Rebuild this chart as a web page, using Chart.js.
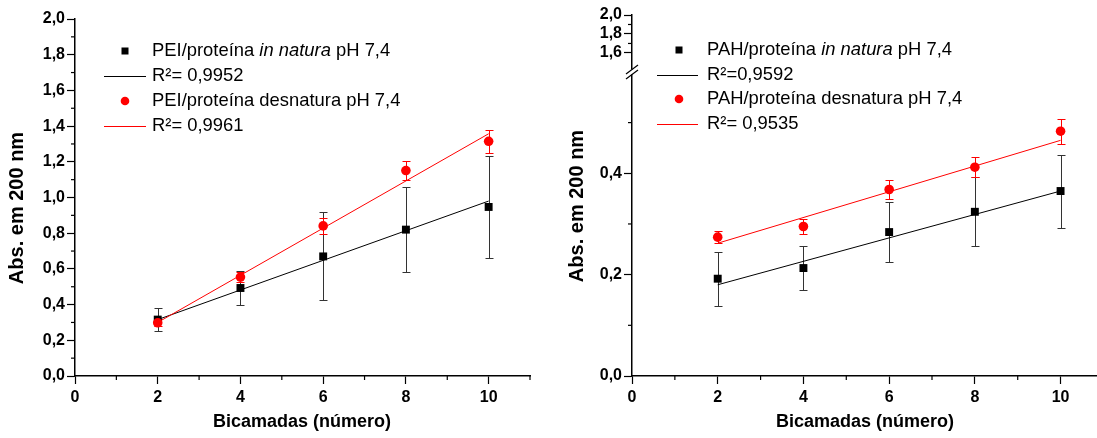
<!DOCTYPE html>
<html lang="pt">
<head>
<meta charset="UTF-8">
<title>Abs. em 200 nm x Bicamadas</title>
<script src="https://cdn.jsdelivr.net/npm/chart.js"></script>
<style>
  body { margin: 0; background: #fff; }
  #wrap { position: relative; width: 1097px; height: 438px; overflow: hidden; }
  #wrap canvas { position: absolute; top: 0; }
</style>
</head>
<body>
<div id="wrap">
  <canvas id="peiChart" width="549" height="438" style="left:0"></canvas>
  <canvas id="pahChart" width="548" height="438" style="left:549px"></canvas>
</div>
<script>
// --- dados ---
const bicamadas = [2, 4, 6, 8, 10];
const fitX = [2, 10];

// PEI
const peiNatura = [0.316, 0.493, 0.67, 0.82, 0.947];
const peiNaturaErr = [0.066, 0.093, 0.247, 0.238, 0.284];
const peiDesnat = [0.298, 0.554, 0.841, 1.151, 1.315];
const peiDesnatErr = [0.02, 0.03, 0.045, 0.055, 0.065];
const peiNaturaFit = [0.316, 0.98];
const peiDesnatFit = [0.30, 1.357];

// PAH
const pahNatura = [0.192, 0.213, 0.284, 0.324, 0.365];
const pahNaturaErr = [0.053, 0.044, 0.06, 0.068, 0.072];
const pahDesnat = [0.274, 0.295, 0.368, 0.412, 0.483];
const pahDesnatErr = [0.012, 0.015, 0.018, 0.02, 0.025];
const pahNaturaFit = [0.18, 0.365];
const pahDesnatFit = [0.262, 0.465];

// ticks
const xMajor = [0, 2, 4, 6, 8, 10];
const xMinor = [1, 3, 5, 7, 9, 11];
const peiYMajor = [0, 0.2, 0.4, 0.6, 0.8, 1.0, 1.2, 1.4, 1.6, 1.8, 2.0];
const peiYMinor = [0.1, 0.3, 0.5, 0.7, 0.9, 1.1, 1.3, 1.5, 1.7, 1.9];
const pahYMajor = [0, 0.2, 0.4];
const pahYMinor = [0.1, 0.3, 0.5];
const pahTopMajor = [1.6, 1.8, 2.0];
const pahTopMinor = [1.7, 1.9];

const xTitle = 'Bicamadas (número)';
const yTitle = 'Abs. em 200 nm';
const peiLegend = [
  [['PEI/proteína ', false], ['in natura', true], [' pH 7,4', false]],
  [['R²= 0,9952', false]],
  [['PEI/proteína desnatura pH 7,4', false]],
  [['R²= 0,9961', false]]
];
const pahLegend = [
  [['PAH/proteína ', false], ['in natura', true], [' pH 7,4', false]],
  [['R²=0,9592', false]],
  [['PAH/proteína desnatura pH 7,4', false]],
  [['R²= 0,9535', false]]
];

const FONT = 'Arial, "Liberation Sans", sans-serif';
const RED = '#ff0000';

const pts = (xs, ys) => xs.map((x, i) => ({ x: x, y: ys[i] }));
const fmtY = v => v.toFixed(1).replace('.', ',');
const fmtX = v => String(v);

function axis(min, max, majors, fmt, size, pad, extra) {
  return Object.assign({
    type: 'linear',
    min: min,
    max: max,
    afterBuildTicks: s => { s.ticks = majors.map(v => ({ value: v })); },
    afterFit: s => { if (s.isHorizontal()) s.height = size; else s.width = size; },
    grid: { drawOnChartArea: false, drawTicks: true, tickLength: 8, tickColor: '#000', tickWidth: 1.2 },
    border: { display: true, color: '#000', width: 1.5 },
    ticks: {
      color: '#000', padding: pad, autoSkip: false, maxRotation: 0,
      font: { family: FONT, size: 16, weight: 'bold' },
      callback: fmt
    }
  }, extra || {});
}

function datasets(natFit, desFit, nat, des, yId) {
  return [
    { data: pts(fitX, natFit), showLine: true, borderColor: '#000', borderWidth: 1, pointRadius: 0, order: 3, yAxisID: yId },
    { data: pts(fitX, desFit), showLine: true, borderColor: RED, borderWidth: 1, pointRadius: 0, order: 2, yAxisID: yId },
    { data: pts(bicamadas, nat), pointStyle: 'rect', pointRadius: 5.6, backgroundColor: '#000', borderWidth: 0, order: 1, yAxisID: yId },
    { data: pts(bicamadas, des), pointStyle: 'circle', pointRadius: 4.8, backgroundColor: RED, borderWidth: 0, order: 0, yAxisID: yId }
  ];
}

// barras de erro
function errorBars(sets) {
  return {
    id: 'errorBars',
    beforeDatasetsDraw(chart) {
      const ctx = chart.ctx, xs = chart.scales.x, ys = chart.scales.y;
      sets.forEach(s => {
        ctx.save();
        ctx.strokeStyle = s.color;
        ctx.lineWidth = 1;
        bicamadas.forEach((xv, i) => {
          const px = Math.round(xs.getPixelForValue(xv)) + 0.5;
          const top = Math.round(ys.getPixelForValue(s.y[i] + s.err[i])) + 0.5;
          const bot = Math.round(ys.getPixelForValue(s.y[i] - s.err[i])) + 0.5;
          ctx.beginPath();
          ctx.moveTo(px, top); ctx.lineTo(px, bot);
          ctx.moveTo(px - 4, top); ctx.lineTo(px + 4, top);
          ctx.moveTo(px - 4, bot); ctx.lineTo(px + 4, bot);
          ctx.stroke();
        });
        ctx.restore();
      });
    }
  };
}

// ticks menores
function minorTicks(list) {
  return {
    id: 'minorTicks',
    afterDraw(chart) {
      const ctx = chart.ctx;
      ctx.save();
      ctx.strokeStyle = '#000';
      ctx.lineWidth = 1.2;
      list.forEach(m => {
        const sc = chart.scales[m.scale];
        m.values.forEach(v => {
          const p = sc.getPixelForValue(v);
          ctx.beginPath();
          if (sc.isHorizontal()) {
            if (p > chart.chartArea.right + 1) return;
            ctx.moveTo(p, sc.top); ctx.lineTo(p, sc.top + 4);
          } else {
            ctx.moveTo(sc.right, p); ctx.lineTo(sc.right - 4, p);
          }
          ctx.stroke();
        });
      });
      ctx.restore();
    }
  };
}

// títulos dos eixos
function axisTitles(xPos, yPos) {
  return {
    id: 'axisTitles',
    afterDraw(chart) {
      const ctx = chart.ctx;
      ctx.save();
      ctx.fillStyle = '#000';
      ctx.textAlign = 'center';
      ctx.textBaseline = 'middle';
      ctx.font = 'bold 18px ' + FONT;
      ctx.fillText(xTitle, xPos[0], xPos[1]);
      ctx.translate(yPos[0], yPos[1]);
      ctx.rotate(-Math.PI / 2);
      ctx.font = 'bold 20px ' + FONT;
      ctx.fillText(yTitle, 0, 0);
      ctx.restore();
    }
  };
}

// legenda com texto em itálico
function legendBox(rows, pos) {
  const kinds = [['rect', '#000'], ['line', '#000'], ['circle', RED], ['line', RED]];
  return {
    id: 'legendBox',
    afterDraw(chart) {
      const ctx = chart.ctx;
      ctx.save();
      rows.forEach((parts, i) => {
        const y = pos.rows[i];
        const [kind, color] = kinds[i];
        ctx.fillStyle = color;
        ctx.strokeStyle = color;
        if (kind === 'rect') {
          ctx.fillRect(pos.marker - 3.5, y - 3.5, 7, 7);
        } else if (kind === 'circle') {
          ctx.beginPath(); ctx.arc(pos.marker, y, 4.3, 0, Math.PI * 2); ctx.fill();
        } else {
          ctx.lineWidth = 1;
          ctx.beginPath(); ctx.moveTo(pos.line[0], Math.round(y) + 0.5); ctx.lineTo(pos.line[1], Math.round(y) + 0.5); ctx.stroke();
        }
        let x = pos.text;
        ctx.fillStyle = '#000';
        ctx.textBaseline = 'middle';
        parts.forEach(([t, italic]) => {
          ctx.font = (italic ? 'italic ' : '') + '18.4px ' + FONT;
          ctx.fillText(t, x, y);
          x += ctx.measureText(t).width;
        });
      });
      ctx.restore();
    }
  };
}

// quebra do eixo y
const axisBreak = {
  id: 'axisBreak',
  afterDraw(chart) {
    const ctx = chart.ctx;
    const ax = chart.chartArea.left;
    const yb = chart.scales.y.top;
    ctx.save();
    ctx.fillStyle = '#fff';
    ctx.fillRect(ax - 2, yb - 2.5, 4, 5);
    ctx.strokeStyle = '#000';
    ctx.lineWidth = 1.2;
    [-2.5, 2.5].forEach(d => {
      ctx.beginPath();
      ctx.moveTo(ax - 6, yb + d + 4.5);
      ctx.lineTo(ax + 6, yb + d - 4.5);
      ctx.stroke();
    });
    ctx.restore();
  }
};

const common = {
  responsive: false,
  animation: false,
  events: [],
  plugins: { legend: { display: false }, tooltip: { enabled: false } }
};

new Chart(document.getElementById('peiChart'), {
  type: 'scatter',
  data: { datasets: datasets(peiNaturaFit, peiDesnatFit, peiNatura, peiDesnat, 'y') },
  options: Object.assign({}, common, {
    layout: { autoPadding: false, padding: { left: 0, top: 19, right: 19, bottom: 0 } },
    scales: {
      x: axis(0, 11, xMajor, fmtX, 62, 4),
      y: axis(0, 2, peiYMajor, fmtY, 75, 2)
    }
  }),
  plugins: [
    errorBars([
      { y: peiNatura, err: peiNaturaErr, color: '#333' },
      { y: peiDesnat, err: peiDesnatErr, color: RED }
    ]),
    minorTicks([{ scale: 'x', values: xMinor }, { scale: 'y', values: peiYMinor }]),
    axisTitles([302, 422], [17, 208]),
    legendBox(peiLegend, { rows: [51, 76, 101, 126], marker: 125, line: [104, 146], text: 152 })
  ]
});

new Chart(document.getElementById('pahChart'), {
  type: 'scatter',
  data: { datasets: datasets(pahNaturaFit, pahDesnatFit, pahNatura, pahDesnat, 'y') },
  options: Object.assign({}, common, {
    layout: { autoPadding: false, padding: { left: 0, top: 15, right: 0, bottom: 0 } },
    scales: {
      x: axis(0, 10.85, xMajor, fmtX, 62, 4),
      y: axis(0, 0.6, pahYMajor, fmtY, 83, 2, { position: 'left', stack: 'abs', stackWeight: 304.5 }),
      yTop: axis(1.4, 2.0, pahTopMajor, fmtY, 83, 2, { position: 'left', stack: 'abs', stackWeight: 57 })
    }
  }),
  plugins: [
    errorBars([
      { y: pahNatura, err: pahNaturaErr, color: '#333' },
      { y: pahDesnat, err: pahDesnatErr, color: RED }
    ]),
    minorTicks([{ scale: 'x', values: xMinor }, { scale: 'y', values: pahYMinor }, { scale: 'yTop', values: pahTopMinor }]),
    axisTitles([316, 422], [28, 206]),
    legendBox(pahLegend, { rows: [50, 75, 99, 124], marker: 130, line: [108, 149], text: 158 }),
    axisBreak
  ]
});
</script>
</body>
</html>
